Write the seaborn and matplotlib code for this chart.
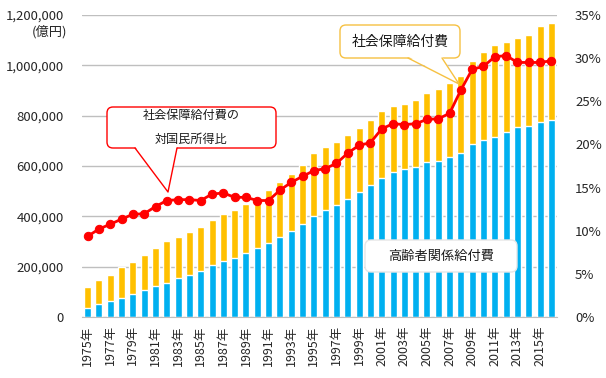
import numpy as np
import pandas as pd
import matplotlib
matplotlib.use("Agg")
import matplotlib.pyplot as plt
import seaborn as sns
from matplotlib.patches import FancyBboxPatch, Polygon
from matplotlib.ticker import FuncFormatter

# Data (億円, ratio in %)
years = list(range(1975, 2017))
social_total = [117693, 145165, 168868, 197763, 219832, 247736, 275638, 300973,
                319733, 336396, 356798, 385918, 407337, 424582, 448822, 474153,
                504362, 538280, 568974, 604727, 649842, 675475, 694187, 721411,
                750417, 783985, 816684, 838402, 845305, 860994, 888529, 906727,
                930116, 958441, 1016868, 1053646, 1082744, 1090781, 1107796,
                1121734, 1158000, 1170000]
elderly = [36000, 51000, 63000, 75000, 90000, 106000, 122000, 137000,
           153000, 165000, 184000, 208000, 224000, 235000, 255000, 275000,
           294000, 318000, 341000, 369000, 400000, 424000, 447000, 470000,
           498000, 526000, 554000, 578000, 590000, 598000, 614000, 621000,
           637000, 653000, 689000, 705000, 717000, 737000, 753000, 757000,
           773000, 781000]
ratio = [9.35, 10.2, 10.75, 11.35, 11.9, 11.97, 12.8, 13.5, 13.6, 13.6, 13.5,
         14.25, 14.37, 13.87, 13.87, 13.5, 13.5, 14.7, 15.6, 16.3, 16.96, 17.2,
         17.8, 19.0, 19.9, 20.2, 21.8, 22.4, 22.3, 22.4, 22.9, 22.97, 23.6,
         26.3, 28.7, 29.05, 30.16, 30.3, 29.5, 29.5, 29.5, 29.7]
tick_years = [y for y in years if y % 2 == 1]
tick_labels = [f"{y}年" for y in tick_years]

df = pd.DataFrame({"year": years, "total": social_total,
                   "elderly": elderly, "ratio": np.array(ratio) / 100})

BLUE = "#00B0F0"
ORANGE = "#FFC000"
RED = "#FF0000"
GRID = "#BFBFBF"

sns.set_style("white")
plt.rcParams["font.family"] = ["Noto Sans CJK JP", "DejaVu Sans"]

W, H = 606, 378
fig = plt.figure(figsize=(W / 100, H / 100), dpi=100)
ax = fig.add_axes([82 / W, (H - 317) / H, (557 - 82) / W, 302 / H])

# stacked bars: total first, elderly share drawn over it
sns.barplot(data=df, x="year", y="total", native_scale=True, color=ORANGE,
            saturation=1, width=0.62, errorbar=None, ax=ax)
sns.barplot(data=df, x="year", y="elderly", native_scale=True, color=BLUE,
            saturation=1, width=0.62, errorbar=None, ax=ax)

ax.set_xlim(1974.5, 2016.5)
ax.set_ylim(0, 1200000)
ax.set_yticks(np.arange(0, 1200001, 200000))
ax.yaxis.set_major_formatter(FuncFormatter(lambda v, p: f"{int(v):,}"))
ax.set_xticks(tick_years)
ax.set_xticklabels(tick_labels, rotation=90, fontsize=9)
ax.tick_params(axis="x", length=0, pad=6, colors="#262626")
ax.tick_params(axis="y", length=0, pad=13, labelsize=9.5, colors="#262626")
ax.set_xlabel("")
ax.set_ylabel("")
ax.grid(axis="y", color=GRID, linewidth=1)
ax.set_axisbelow(True)
for s in ["top", "left", "right"]:
    ax.spines[s].set_visible(False)
ax.spines["bottom"].set_color(GRID)
ax.text(-0.032, 0.945, "(億円)", transform=ax.transAxes, ha="right",
        va="center", fontsize=9.5, color="#262626")

# ratio to national income on the right axis
ax2 = ax.twinx()
sns.lineplot(data=df, x="year", y="ratio", color=RED, linewidth=2.0,
             marker="o", markersize=6, markeredgecolor=RED, ax=ax2)
ax2.set_ylim(0, 0.35)
ax2.set_yticks(np.arange(0, 0.351, 0.05))
ax2.yaxis.set_major_formatter(FuncFormatter(lambda v, p: f"{round(v * 100)}%"))
ax2.tick_params(axis="y", length=0, pad=13, labelsize=9.5, colors="#262626")
ax2.set_ylabel("")
ax2.set_xlabel("")
for s in ax2.spines.values():
    s.set_visible(False)

# callouts drawn on an overlay in pixel coordinates
ov = fig.add_axes([0, 0, 1, 1])
ov.set_xlim(0, W)
ov.set_ylim(H, 0)
ov.axis("off")


def callout(box, base, tip, edge, lines, size):
    x0, y0, x1, y1 = box
    ov.add_patch(FancyBboxPatch((x0, y0), x1 - x0, y1 - y0,
                                boxstyle="round,pad=0,rounding_size=6",
                                facecolor="white", edgecolor=edge, lw=1, zorder=3))
    if base is not None:
        ov.add_patch(Polygon([(base[0], y1 - 1.5), tip, (base[1], y1 - 1.5)],
                             closed=True, facecolor="white", edgecolor="none",
                             zorder=4))
        ov.plot([base[0], tip[0], base[1]], [y1, tip[1], y1], color=edge,
                lw=1, zorder=5)
    n = len(lines)
    for i, t in enumerate(lines):
        cy = (y0 + y1) / 2 + (i - (n - 1) / 2) * 24
        ov.text((x0 + x1) / 2, cy, t, ha="center", va="center", fontsize=size,
                color="#1a1a1a", zorder=6)


callout((107, 107, 276, 148), (135, 177), (168, 192), RED,
        ["社会保障給付費の", "対国民所得比"], 8.7)
callout((340, 25, 460, 58), (408, 442), (459, 84), "#F6C142",
        ["社会保障給付費"], 10)
callout((365, 240, 517, 272), None, None, "#E6E6E6",
        ["高齢者関係給付費"], 9.5)

fig.savefig("out.png", dpi=100)
